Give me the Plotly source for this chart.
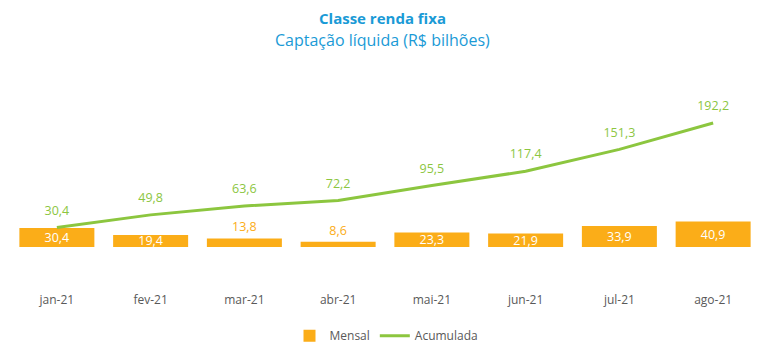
import plotly.graph_objects as go

meses = ["jan-21", "fev-21", "mar-21", "abr-21", "mai-21", "jun-21", "jul-21", "ago-21"]
mensal = [30.4, 19.4, 13.8, 8.6, 23.3, 21.9, 33.9, 40.9]
acumulada = [30.4, 49.8, 63.6, 72.2, 95.5, 117.4, 151.3, 192.2]

titulo = "Classe renda fixa"
subtitulo = "Captação líquida (R$ bilhões)"

ORANGE = "#FBAD18"
GREEN = "#8CC63F"
BLUE = "#1A9AD6"

def fmt(v):
    return f"{v:.1f}".replace(".", ",")

bar_pos = ["inside" if v > 15 else "outside" for v in mensal]
bar_col = ["white" if v > 15 else ORANGE for v in mensal]

fig = go.Figure()
fig.add_trace(go.Bar(
    x=meses, y=mensal, name="Mensal",
    marker=dict(color=ORANGE, line=dict(width=0)),
    text=[fmt(v) for v in mensal],
    textposition=bar_pos,
    insidetextanchor="middle",
    constraintext="none",
    textfont=dict(color=bar_col, size=12.5, family="Open Sans"),
    cliponaxis=False,
))
fig.add_trace(go.Scatter(
    x=meses, y=acumulada, name="Acumulada", mode="lines+markers+text",
    yaxis="y2",
    line=dict(color=GREEN, width=3),
    marker=dict(size=14, color="rgba(0,0,0,0)"),
    text=[fmt(v) for v in acumulada],
    textposition="top center",
    textfont=dict(color=GREEN, size=12.5, family="Open Sans"),
    cliponaxis=False,
))

fig.update_layout(
    width=762, height=349,
    margin=dict(l=2, r=10, t=82, b=66, autoexpand=False),
    paper_bgcolor="white", plot_bgcolor="white",
    bargap=0.2,
    font=dict(family="Open Sans", size=12, color="#595959"),
    annotations=[
        dict(text=f"<b>{titulo}</b>", xref="paper", yref="paper", x=0.496, y=1.356,
             xanchor="center", yanchor="middle", showarrow=False,
             font=dict(size=15, color=BLUE, family="Open Sans")),
        dict(text=subtitulo, xref="paper", yref="paper", x=0.496, y=1.249,
             xanchor="center", yanchor="middle", showarrow=False,
             font=dict(size=16, color=BLUE, family="Open Sans")),
    ],
    showlegend=True,
    legend=dict(orientation="h", x=0.502, xanchor="center", y=-0.15, yanchor="top",
                font=dict(size=12, color="#595959"), itemwidth=30),
    xaxis=dict(showgrid=False, showline=False, zeroline=False, ticks="", automargin=False,
               tickfont=dict(size=12, color="#595959")),
    yaxis=dict(range=[-70.7, 252.4], visible=False, showgrid=False, zeroline=False, automargin=False),
    yaxis2=dict(range=[-68.2, 243.4], overlaying="y", visible=False, showgrid=False,
                zeroline=False, automargin=False),
)

fig.write_html("out.html")
